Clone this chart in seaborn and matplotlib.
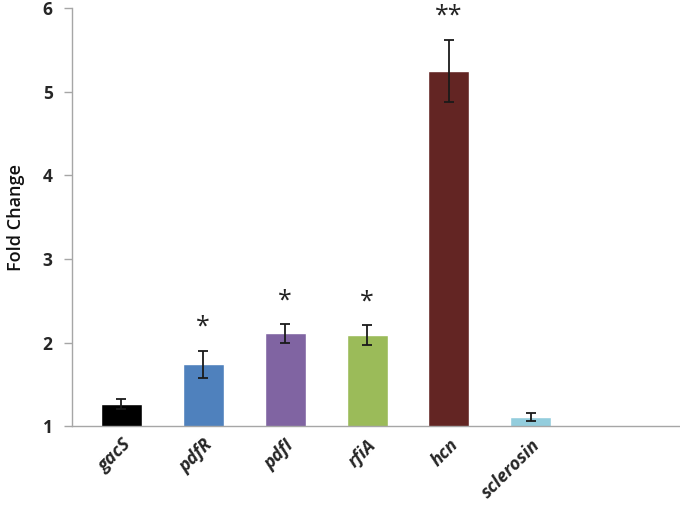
import pandas as pd
import matplotlib
matplotlib.use("Agg")
import matplotlib.pyplot as plt
import seaborn as sns

genes = ["gacS", "pdfR", "pdfI", "rfiA", "hcn", "sclerosin"]
fold_change = [1.26, 1.74, 2.11, 2.09, 5.25, 1.11]
errors = [0.06, 0.16, 0.11, 0.12, 0.37, 0.05]
stars = ["", "*", "*", "*", "**", ""]
colors = ["#000000", "#4F81BD", "#8064A2", "#9BBB59", "#632523", "#93CDDD"]

df = pd.DataFrame({"gene": genes, "fold": fold_change, "err": errors})

sns.set_theme(style="white")
plt.rcParams["font.family"] = ["Open Sans", "DejaVu Sans"]

fig = plt.figure(figsize=(6.8, 5.05), dpi=100)
ax = fig.add_axes([0.106, 0.156, 0.894, 0.828])

sns.barplot(data=df, x="gene", y="fold", hue="gene", palette=colors,
            width=0.5, legend=False, ax=ax, saturation=1)
ax.errorbar(range(len(genes)), fold_change, yerr=errors, fmt="none",
            ecolor="#1a1a1a", elinewidth=1.3, capsize=3.5, capthick=1.3)

for i, s in enumerate(stars):
    if s:
        ax.text(i, fold_change[i] + errors[i] + 0.28, s, ha="center", va="center",
                fontsize=18, color="#222222")

ax.set_ylim(1, 6)
ax.set_xlim(-0.6, 6.82)
ax.set_yticks([1, 2, 3, 4, 5, 6])
ax.set_yticklabels(["1", "2", "3", "4", "5", "6"], fontsize=12.5, fontweight="bold")
ax.set_xticks(range(len(genes)))
ax.set_xticklabels(genes, rotation=45, ha="right", rotation_mode="anchor",
                   fontsize=13, fontweight="bold", fontstyle="italic")
ax.set_xlabel("")
ax.set_ylabel("Fold Change", fontsize=13, fontweight="semibold",
              color="#111111", labelpad=13)

for side in ["top", "right"]:
    ax.spines[side].set_visible(False)
for side in ["left", "bottom"]:
    ax.spines[side].set_color("#a6a6a6")
    ax.spines[side].set_linewidth(1)
ax.tick_params(axis="y", which="major", left=True, length=6, width=1,
               color="#a6a6a6", pad=8)
ax.tick_params(axis="x", bottom=False, pad=1)

fig.savefig("out.png", dpi=100)
